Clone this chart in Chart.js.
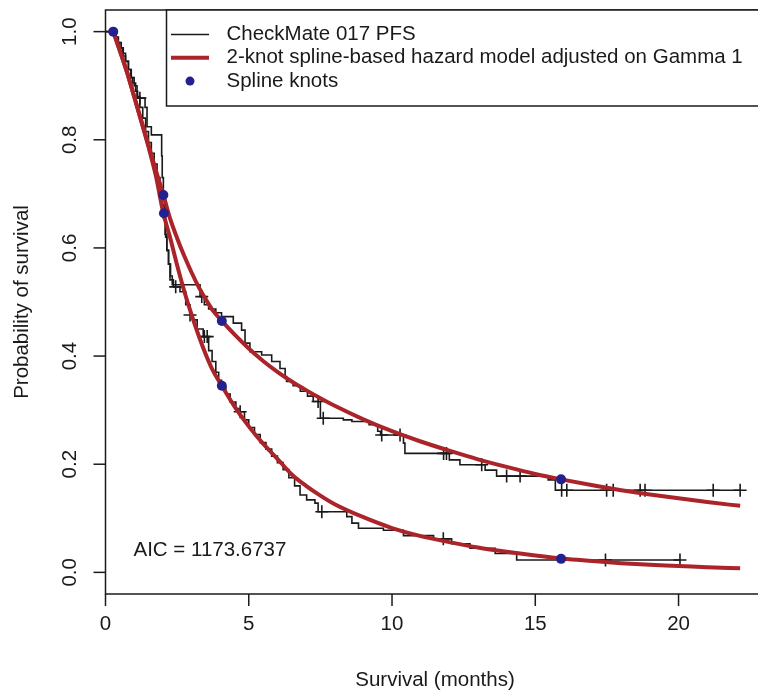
<!DOCTYPE html>
<html><head><meta charset="utf-8">
<script src="https://cdn.jsdelivr.net/npm/chart.js@4.4.1/dist/chart.umd.min.js"></script>
<style>
html,body{margin:0;padding:0;background:#fff;overflow:hidden;width:758px;height:697px}
canvas{display:block}
</style></head>
<body>
<canvas id="c" width="780" height="697" style="width:780px;height:697px"></canvas>
<script>
// ---- tick labels / text ----
const xTicks = [0, 5, 10, 15, 20];
const yTicks = [0, 0.2, 0.4, 0.6, 0.8, 1.0];
const yTickLabels = ['0.0', '0.2', '0.4', '0.6', '0.8', '1.0'];
const xTitle = 'Survival (months)';
const yTitle = 'Probability of survival';
const legendLabels = ['CheckMate 017 PFS', '2-knot spline-based hazard model adjusted on Gamma 1', 'Spline knots'];
const aicText = 'AIC = 1173.6737';

// ---- Kaplan-Meier arm A (upper) ----
const kmTimesA = [0,0.35,0.45,0.55,0.62,0.7,0.8,0.88,0.95,1.05,1.12,1.38,1.45,1.6,1.96,1.98,2.02,2.06,2.1,2.14,2.2,2.27,2.33,3.3,3.45,3.6,3.85,4.05,4.46,4.75,4.87,5.04,5.45,5.8,6.09,6.27,6.32,6.55,6.8,7.05,7.25,7.5,8.3,8.6,9.2,9.5,9.6,10.4,10.45,12.0,12.37,13.25,13.65,15.45,15.7,22.15];
const kmSurvA  = [1,0.99,0.98,0.97,0.955,0.945,0.93,0.915,0.905,0.89,0.877,0.86,0.824,0.809,0.77,0.73,0.69,0.655,0.62,0.595,0.57,0.548,0.532,0.51,0.495,0.487,0.48,0.473,0.461,0.448,0.424,0.408,0.402,0.39,0.377,0.362,0.353,0.345,0.335,0.326,0.316,0.285,0.282,0.279,0.273,0.261,0.254,0.239,0.22,0.208,0.199,0.189,0.178,0.171,0.152,0.152];
const censorTimesA = [1.2,3.36,7.42,7.6,9.64,10.28,11.8,11.9,13.13,14.0,14.47,15.92,16.1,17.49,17.72,18.66,18.83,21.21,22.15];
const censorSurvA  = [0.877,0.51,0.316,0.285,0.254,0.254,0.22,0.22,0.199,0.178,0.178,0.152,0.152,0.152,0.152,0.152,0.152,0.152,0.152];

// ---- Kaplan-Meier arm B (lower) ----
const kmTimesB = [0,0.3,0.4,0.5,0.6,0.7,0.8,0.9,1.0,1.1,1.2,1.3,1.4,1.5,1.6,1.7,1.8,1.9,1.97,2.02,2.08,2.14,2.2,2.25,2.37,2.6,2.8,2.95,3.06,3.2,3.41,3.6,3.72,3.85,3.95,4.05,4.2,4.35,4.55,4.65,4.85,5.0,5.2,5.4,5.6,5.8,6.0,6.2,6.4,6.6,6.79,7.02,7.31,7.42,8.42,8.6,8.83,9.7,10.4,11.45,12.08,12.72,13.6,14.35,20.05];
const kmSurvB  = [1,0.99,0.98,0.97,0.96,0.945,0.93,0.915,0.9,0.88,0.86,0.84,0.815,0.795,0.775,0.755,0.73,0.71,0.68,0.655,0.625,0.596,0.57,0.541,0.528,0.519,0.495,0.476,0.467,0.45,0.436,0.41,0.39,0.37,0.355,0.343,0.33,0.315,0.303,0.297,0.282,0.268,0.255,0.24,0.228,0.215,0.203,0.19,0.175,0.16,0.143,0.134,0.128,0.112,0.103,0.091,0.0815,0.078,0.068,0.062,0.053,0.0445,0.035,0.023,0.023];
const censorTimesB = [2.45,2.95,3.45,3.55,4.7,7.55,11.79,17.45,20.05];
const censorSurvB  = [0.528,0.476,0.436,0.436,0.297,0.112,0.062,0.023,0.023];

// ---- fitted spline model curves ----
const splineTimes = [0.27,0.5,0.75,1,1.25,1.5,1.75,2.02,2.25,2.5,2.75,3,3.25,3.5,3.75,4.06,4.5,5,5.5,6,6.5,7,7.5,8,9,10,11,12,13,14,15,16,17,18,19,20,21,22.15];
const splineUpper = [1.0,0.965,0.925,0.88,0.835,0.79,0.745,0.698,0.655,0.618,0.585,0.555,0.528,0.505,0.484,0.465,0.44,0.414,0.391,0.371,0.353,0.337,0.322,0.308,0.283,0.261,0.242,0.225,0.209,0.195,0.182,0.171,0.161,0.152,0.144,0.137,0.13,0.123];
const splineLower = [1.0,0.965,0.925,0.88,0.834,0.787,0.735,0.664,0.62,0.568,0.52,0.477,0.438,0.403,0.373,0.345,0.307,0.27,0.238,0.21,0.181,0.16,0.142,0.126,0.102,0.082,0.067,0.056,0.046,0.038,0.031,0.025,0.021,0.017,0.014,0.012,0.0095,0.0076];

// ---- spline knots ----
const knotTimes = [0.27, 2.02, 2.04, 4.06, 4.06, 15.9, 15.9];
const knotSurv  = [1.0, 0.698, 0.664, 0.465, 0.345, 0.172, 0.025];

const xy = (ts, ss) => ts.map((t, i) => ({x: t, y: ss[i]}));

const FONT = '20.5px "Liberation Sans", Arial, Helvetica, sans-serif';
const INK = '#1a1a1a';
const RED = '#ab2429';
const BLUE = '#23208f';

const rStyle = {
  id: 'rStyle',
  beforeDatasetsDraw(chart) {
    const {ctx, chartArea: a} = chart;
    ctx.save();
    ctx.fillStyle = '#fff';
    ctx.fillRect(a.left, a.top, a.right - a.left, a.bottom - a.top);
    ctx.restore();
  },
  afterDraw(chart) {
    const {ctx, chartArea: a, scales: {x, y}} = chart;
    ctx.save();
    ctx.strokeStyle = INK;
    ctx.fillStyle = INK;
    ctx.lineWidth = 1.5;
    ctx.strokeRect(a.left, a.top, a.right - a.left, a.bottom - a.top);
    ctx.font = FONT;
    ctx.textAlign = 'center';
    ctx.textBaseline = 'middle';
    xTicks.forEach(v => {
      const px = x.getPixelForValue(v);
      ctx.beginPath(); ctx.moveTo(px, a.bottom); ctx.lineTo(px, a.bottom + 12); ctx.stroke();
      ctx.fillText(String(v), px, a.bottom + 30);
    });
    ctx.fillText(xTitle, (a.left + a.right) / 2, a.bottom + 86);
    yTicks.forEach((v, i) => {
      const py = y.getPixelForValue(v);
      ctx.beginPath(); ctx.moveTo(a.left - 12, py); ctx.lineTo(a.left, py); ctx.stroke();
      ctx.save();
      ctx.translate(a.left - 35, py);
      ctx.rotate(-Math.PI / 2);
      ctx.fillText(yTickLabels[i], 0, 0);
      ctx.restore();
    });
    ctx.save();
    ctx.translate(a.left - 83, (a.top + a.bottom) / 2);
    ctx.rotate(-Math.PI / 2);
    ctx.fillText(yTitle, 0, 0);
    ctx.restore();
    ctx.textAlign = 'left';
    ctx.fillText(aicText, a.left + 28, y.getPixelForValue(0.04));
    const lx = 166.5, ly = a.top, lw = a.right - lx, lh = 96;
    ctx.fillStyle = '#fff';
    ctx.fillRect(lx, ly, lw, lh);
    ctx.strokeRect(lx, ly, lw, lh);
    const rows = [ly + 24.5, ly + 47.8, ly + 71.1];
    ctx.lineWidth = 1.5; ctx.strokeStyle = INK;
    ctx.beginPath(); ctx.moveTo(171, rows[0]); ctx.lineTo(209, rows[0]); ctx.stroke();
    ctx.lineWidth = 4; ctx.strokeStyle = RED;
    ctx.beginPath(); ctx.moveTo(171, rows[1]); ctx.lineTo(209, rows[1]); ctx.stroke();
    ctx.fillStyle = BLUE;
    ctx.beginPath(); ctx.arc(190, rows[2], 4.5, 0, Math.PI * 2); ctx.fill();
    ctx.fillStyle = INK;
    legendLabels.forEach((t, i) => ctx.fillText(t, 226.5, rows[i]));
    ctx.restore();
  }
};

const kmLine = (data) => ({type: 'line', data, stepped: 'before', borderColor: INK, borderWidth: 1.6,
  pointRadius: 0, fill: false, clip: false, order: 3});
const censor = (data) => ({type: 'scatter', data, showLine: false, pointStyle: 'cross', pointRadius: 6.5,
  borderColor: INK, borderWidth: 1.6, backgroundColor: INK, clip: false, order: 2});
const spline = (data) => ({type: 'line', data, borderColor: RED, borderWidth: 4, pointRadius: 0,
  cubicInterpolationMode: 'monotone', fill: false, clip: false, order: 1});

new Chart(document.getElementById('c'), {
  type: 'line',
  data: {
    datasets: [
      kmLine(xy(kmTimesA, kmSurvA)),
      kmLine(xy(kmTimesB, kmSurvB)),
      censor(xy(censorTimesA, censorSurvA)),
      censor(xy(censorTimesB, censorSurvB)),
      spline(xy(splineTimes, splineUpper)),
      spline(xy(splineTimes, splineLower)),
      {type: 'scatter', data: xy(knotTimes, knotSurv), pointStyle: 'circle', pointRadius: 5,
       backgroundColor: BLUE, borderColor: BLUE, borderWidth: 0, clip: false, order: 0}
    ]
  },
  options: {
    responsive: false, animation: false, devicePixelRatio: 1,
    layout: {padding: {left: 105.5, top: 10, right: 780 - 764.5, bottom: 697 - 594}},
    scales: {
      x: {type: 'linear', min: 0, max: 23, display: false},
      y: {type: 'linear', min: -0.04, max: 1.04, display: false}
    },
    plugins: {legend: {display: false}, tooltip: {enabled: false}},
    events: []
  },
  plugins: [rStyle]
});
</script>
</body></html>
